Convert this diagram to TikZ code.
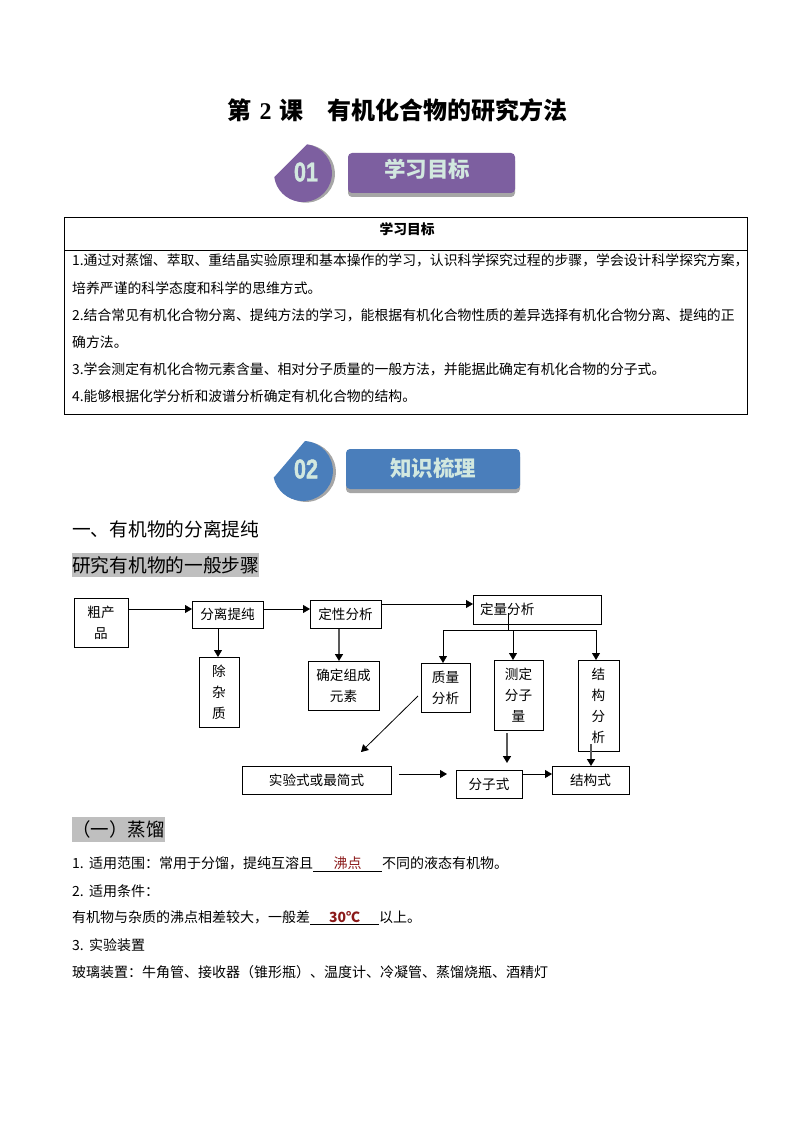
\documentclass[tikz,border=0pt]{standalone}
\usepackage{graphicx}
\usepackage{fontspec}
\setmainfont{Noto Sans CJK SC}
\newfontfamily\latinfont{Liberation Serif}
\newfontfamily\badgefont[UprightFont=* Bold, FakeBold=1.5]{Liberation Sans}
\usetikzlibrary{arrows.meta}
\definecolor{goalpurple}{HTML}{7D5FA0}
\definecolor{goalblue}{HTML}{4A7EBB}
\definecolor{badgetext}{HTML}{D2E8DF}
\definecolor{fillred}{HTML}{8B1A1A}
\definecolor{barshade}{HTML}{A6A6A6}
\definecolor{headgray}{HTML}{BFBFBF}
\tikzset{
  flowbox/.style={draw, rectangle, outer sep=0pt, inner sep=0pt, align=center, line width=0.8pt,
    font=\fontsize{13.6}{21}\selectfont},
  flow/.style={-{Triangle[length=7pt,width=8pt,color=black]}, line width=0.8pt},
  heavyflow/.style={-{Triangle[length=7pt,width=8pt,color=black]}, line width=1.6pt, draw=black!65},
  bodyline/.style={anchor=west, inner sep=0pt, font=\fontsize{14}{14}\selectfont},
  headline/.style={anchor=west, inner sep=0pt, font=\fontsize{18.7}{19}\selectfont},
  graybar/.style={rectangle, fill=headgray, outer sep=0pt, inner sep=0pt},
  banner/.style={rectangle, rounded corners=4pt, minimum height=40pt, inner sep=0pt, text=badgetext,
    font=\fontsize{21.5}{22}\selectfont\bfseries},
  badgenum/.style={inner sep=0pt, text=badgetext, font=\fontsize{27}{27}\badgefont}
}
\begin{document}
\begin{tikzpicture}[x=1pt, y=-1pt]
  \useasboundingbox (0,0) rectangle (794,1123);
  \node (title) [inner sep=0pt, font=\fontsize{24}{24}\selectfont\bfseries] at (397.5,110)
    {第\hspace{8pt}{\latinfont 2}\hspace{8pt}课\hspace{24pt}有机化合物的研究方法};

  % badge 01
  \fill[barshade] (310,145) arc[start angle=-82, end angle=172, radius=29] -- cycle;
  \fill[goalpurple] (307,144.3) arc[start angle=-82, end angle=172, radius=29] -- cycle;
  \node (numone) [badgenum] at (306,172) {\scalebox{.8}[1]{01}};
  \fill[barshade, rounded corners=4pt] (348,157) rectangle (515,197);
  \node (goalbar) [banner, fill=goalpurple, minimum width=167pt] at (431.5,173) {};
  \node (goaltext) [banner, minimum height=0pt] at (427,169) {学习目标};

  % goal table
  \node (goalhead) [draw, rectangle, outer sep=0pt, line width=0.8pt, minimum width=683pt, minimum height=33pt,
    font=\fontsize{13.75}{14}\selectfont] at (405.5,233.5) {};
  \node (goalname) [inner sep=0pt, font=\fontsize{13.75}{14}\selectfont\bfseries] at (407,229) {学习目标};
  \node (goalbox) [draw, rectangle, outer sep=0pt, line width=0.8pt, minimum width=683pt, minimum height=164pt]
    at (405.5,332) {};
  \node (goallines) [anchor=west, inner sep=0pt, align=left, font=\fontsize{13.85}{27.2}\selectfont] at (72,328.5) {%
    1.通过对蒸馏、萃取、重结晶实验原理和基本操作的学习，认识科学探究过程的步骤，学会设计科学探究方案，\\
    培养严谨的科学态度和科学的思维方式。\\
    2.结合常见有机化合物分离、提纯方法的学习，能根据有机化合物性质的差异选择有机化合物分离、提纯的正\\
    确方法。\\
    3.学会测定有机化合物元素含量、相对分子质量的一般方法，并能据此确定有机化合物的分子式。\\
    4.能够根据化学分析和波谱分析确定有机化合物的结构。};

  % badge 02
  \fill[barshade] (308,442) arc[start angle=-86, end angle=167, radius=30] -- cycle;
  \fill[goalblue] (305,441) arc[start angle=-86, end angle=167, radius=30] -- cycle;
  \node (numtwo) [badgenum] at (306,469) {\scalebox{.8}[1]{02}};
  \fill[barshade, rounded corners=4pt] (346,453) rectangle (520,493);
  \node (knowbar) [banner, fill=goalblue, minimum width=174pt] at (433,469) {};
  \node (knowtext) [banner, minimum height=0pt] at (433,468) {知识梳理};

  % headings
  \node (secone) [headline] at (72,529) {一、有机物的分离提纯};
  \node (stepbar) [graybar, minimum width=187pt, minimum height=24pt] at (165.5,565) {};
  \node (steptext) [headline] at (72,565) {研究有机物的一般步骤};

  % flow chart
  \node (crude) [flowbox, minimum width=54pt, minimum height=49pt] at (101,622.5) {粗产\\品};
  \node (sep) [flowbox, minimum width=71pt, minimum height=27pt] at (227.5,614.5) {分离提纯};
  \node (qual) [flowbox, minimum width=71pt, minimum height=28pt] at (345.5,614) {定性分析};
  \node (quant) [flowbox, minimum width=128pt, minimum height=29pt, text width=114pt, align=left] at (537,609.5) {定量分析};
  \node (impure) [flowbox, minimum width=40pt, minimum height=70pt] at (219,692) {除\\杂\\质};
  \node (element) [flowbox, minimum width=71pt, minimum height=49pt] at (343.5,685.5) {确定组成\\元素};
  \node (mass) [flowbox, minimum width=49pt, minimum height=49pt] at (445.5,687.5) {质量\\分析};
  \node (molar) [flowbox, minimum width=49pt, minimum height=70pt] at (518.5,695) {测定\\分子\\量};
  \node (struct) [flowbox, minimum width=41pt, minimum height=91pt] at (598.5,705.5) {结\\构\\分\\析};
  \node (empirical) [flowbox, minimum width=149pt, minimum height=28pt] at (316.5,780) {实验式或最简式};
  \node (formula) [flowbox, minimum width=66pt, minimum height=28pt] at (489,784) {分子式};
  \node (strform) [flowbox, minimum width=77pt, minimum height=28pt] at (590.5,780) {结构式};
  \coordinate (qtop) at (508,613);
  \coordinate (qsplit) at (508,630);

  \draw[flow] ([shift={(1pt,13.5pt)}]crude.east) -- ([yshift=5.5pt]sep.west);
  \draw[flow] ([shift={(1pt,5.5pt)}]sep.east) -- ([yshift=5pt]qual.west);
  \draw[flow] ([shift={(1pt,10pt)}]qual.east) -- ([yshift=5.5pt]quant.west);
  \draw[flow] ([xshift=-9.5pt]sep.south) -- ([xshift=-1pt]impure.north);
  \draw[heavyflow] ([shift={(-6.5pt,-1pt)}]qual.south) -- ([xshift=-4.5pt]element.north);
  \draw[line width=0.8pt] (qtop) -- (qsplit);
  \draw[flow] (qsplit) -| ([xshift=-2.5pt]mass.north);
  \draw[flow] ([xshift=-5.5pt]molar.north |- qsplit) -- ([xshift=-5.5pt]molar.north);
  \draw[flow] (qsplit) -| ([xshift=-2.5pt]struct.north);
  \draw[flow] ([shift={(-3pt,-8.5pt)}]mass.west) -- ([shift={(44.5pt,14pt)}]empirical.north);
  \draw[heavyflow] ([shift={(-11.5pt,-3pt)}]molar.south) -- ([shift={(18pt,7pt)}]formula.north);
  \draw[heavyflow] ([shift={(-7.5pt,7pt)}]struct.south) -- ([xshift=.5pt]strform.north);
  \draw[flow] ([shift={(8pt,6pt)}]empirical.east) -- ([shift={(-9pt,10pt)}]formula.west);
  \draw[flow] ([yshift=10pt]formula.east) -- ([yshift=6pt]strform.west);

  % distillation
  \node (distbar) [graybar, minimum width=93pt, minimum height=25pt] at (118.5,829.5) {};
  \node (disttext) [headline, font=\fontsize{18.5}{19}\selectfont] at (72,829) {（一）蒸馏};
  \node (useone) [bodyline] at (72,864) {\makebox[17pt][l]{1.}适用范围：常用于分馏，提纯互溶且\underline{\makebox[69pt]{\textcolor{fillred}{沸点}}}不同的液态有机物。};
  \node (usetwo) [bodyline] at (72,891) {\makebox[17pt][l]{2.}适用条件：};
  \node (usethree) [bodyline] at (72,918) {有机物与杂质的沸点相差较大，一般差\underline{\makebox[69pt]{\textcolor{fillred}{\bfseries 30℃}}}以上。};
  \node (usefour) [bodyline] at (72,945) {\makebox[17pt][l]{3.}实验装置};
  \node (usefive) [bodyline] at (72,972) {玻璃装置：牛角管、接收器（锥形瓶）、温度计、冷凝管、蒸馏烧瓶、酒精灯};
\end{tikzpicture}
\end{document}
